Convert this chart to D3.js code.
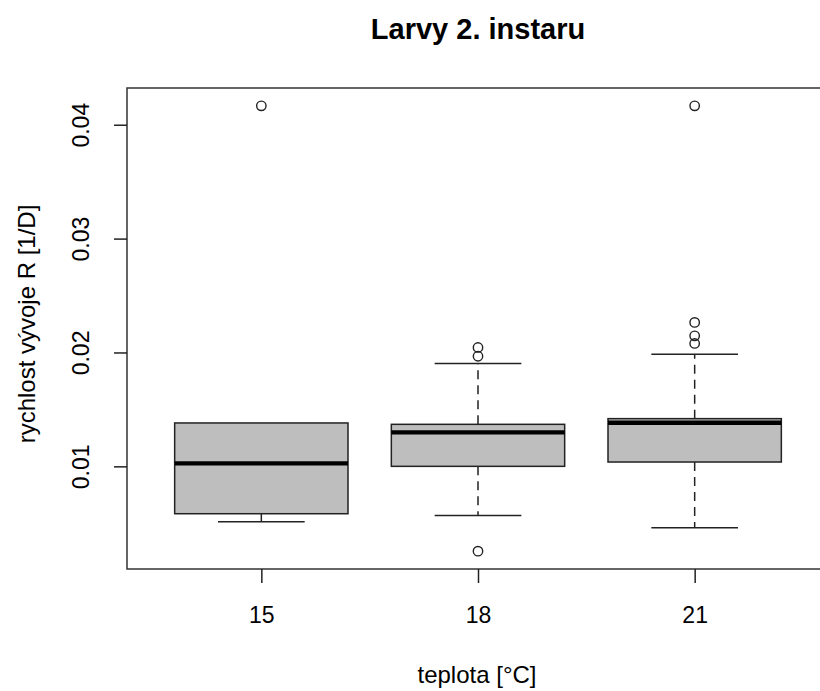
<!DOCTYPE html>
<html>
<head>
<meta charset="utf-8">
<script src="https://cdnjs.cloudflare.com/ajax/libs/d3/7.8.5/d3.min.js"></script>
<style>
  body { margin: 0; background: #fff; }
  text { font-family: 'Liberation Sans', Arial, sans-serif; fill: #000; }
  .title { font-size: 29px; font-weight: bold; }
  .tick-label { font-size: 23px; }
  .axis-label { font-size: 24px; }
</style>
</head>
<body>
<svg width="820" height="691"></svg>
<script>
// values
const groups = ['15', '18', '21'];
const whiskerLow = [0.00514, 0.00569, 0.00461];
const q1 = [0.00584, 0.01000, 0.01038];
const median = [0.01026, 0.01299, 0.01383];
const q3 = [0.01381, 0.01369, 0.01419];
const whiskerHigh = [0.01381, 0.01903, 0.01985];
const outliers = [
    [0.04166],
    [0.02044, 0.01967, 0.00255],
    [0.04166, 0.02264, 0.02146, 0.02079]
];
const yTicks = [0.01, 0.02, 0.03, 0.04];

const svg = d3.select('svg');

const render = () => {
    const data = groups.map((g, i) => ({
        group: g, pos: i + 1,
        lo: whiskerLow[i], q1: q1[i], med: median[i], q3: q3[i], hi: whiskerHigh[i],
        out: outliers[i]
    }));

    const plot = { left: 127, top: 88, bottom: 569, right: 829 };

    // like R: groups at 1..n, xlim n +- 0.5 widened 4%
    const xScale = d3.scaleLinear()
        .domain([0.5 - 0.12, groups.length + 0.5 + 0.12])
        .range([plot.left, plot.right]);

    const allValues = data.flatMap(d => [d.lo, d.hi, ...d.out]);
    const [minV, maxV] = d3.extent(allValues);
    const pad = (maxV - minV) * 0.04;
    const yScale = d3.scaleLinear()
        .domain([minV - pad, maxV + pad])
        .range([plot.bottom, plot.top]);

    const boxHalf = xScale(1.4) - xScale(1);
    const capHalf = boxHalf / 2;

    const g = svg.append('g');

    const box = g.selectAll('.box').data(data).enter().append('g').attr('class', 'box');

    // whiskers, dashed
    box.append('line')
        .attr('x1', d => xScale(d.pos)).attr('x2', d => xScale(d.pos))
        .attr('y1', d => yScale(d.q3)).attr('y2', d => yScale(d.hi))
        .attr('stroke', '#222').attr('stroke-width', 1.5)
        .attr('stroke-dasharray', '9,6');
    box.append('line')
        .attr('x1', d => xScale(d.pos)).attr('x2', d => xScale(d.pos))
        .attr('y1', d => yScale(d.q1)).attr('y2', d => yScale(d.lo))
        .attr('stroke', '#222').attr('stroke-width', 1.5)
        .attr('stroke-dasharray', '9,6');

    // staples
    box.filter(d => d.hi > d.q3).append('line')
        .attr('x1', d => xScale(d.pos) - capHalf).attr('x2', d => xScale(d.pos) + capHalf)
        .attr('y1', d => yScale(d.hi)).attr('y2', d => yScale(d.hi))
        .attr('stroke', '#222').attr('stroke-width', 1.5);
    box.append('line')
        .attr('x1', d => xScale(d.pos) - capHalf).attr('x2', d => xScale(d.pos) + capHalf)
        .attr('y1', d => yScale(d.lo)).attr('y2', d => yScale(d.lo))
        .attr('stroke', '#222').attr('stroke-width', 1.5);

    box.append('rect')
        .attr('x', d => xScale(d.pos) - boxHalf)
        .attr('width', boxHalf * 2)
        .attr('y', d => yScale(d.q3))
        .attr('height', d => yScale(d.q1) - yScale(d.q3))
        .attr('fill', '#bebebe')
        .attr('stroke', '#222').attr('stroke-width', 1.5);

    box.append('line')
        .attr('x1', d => xScale(d.pos) - boxHalf).attr('x2', d => xScale(d.pos) + boxHalf)
        .attr('y1', d => yScale(d.med)).attr('y2', d => yScale(d.med))
        .attr('stroke', '#000').attr('stroke-width', 4.3);

    // outliers
    box.selectAll('circle').data(d => d.out.map(v => ({ pos: d.pos, v })))
        .enter().append('circle')
            .attr('cx', d => xScale(d.pos))
            .attr('cy', d => yScale(d.v))
            .attr('r', 4.7)
            .attr('fill', 'none')
            .attr('stroke', '#222').attr('stroke-width', 1.4);

    // plot frame
    g.append('rect')
        .attr('x', plot.left).attr('y', plot.top)
        .attr('width', plot.right - plot.left).attr('height', plot.bottom - plot.top)
        .attr('fill', 'none').attr('stroke', '#333').attr('stroke-width', 1.5);

    // y axis
    const yAxisG = g.append('g')
        .attr('transform', `translate(${plot.left}, 0)`)
        .call(d3.axisLeft(yScale).tickValues(yTicks).tickSize(13).tickFormat(d3.format('.2f')));
    yAxisG.select('.domain').remove();
    yAxisG.selectAll('.tick line').attr('stroke', '#222').attr('stroke-width', 1.5);
    yAxisG.selectAll('.tick text')
        .attr('class', 'tick-label')
        .attr('x', 0).attr('dy', 0)
        .attr('transform', 'translate(-38, 0) rotate(-90)')
        .attr('text-anchor', 'middle')
        .attr('fill', '#000');
    yAxisG.attr('font-family', null).attr('font-size', null);

    // x axis
    const xAxisG = g.append('g')
        .attr('transform', `translate(0, ${plot.bottom})`)
        .call(d3.axisBottom(xScale).tickValues(data.map(d => d.pos)).tickSize(14)
            .tickFormat(p => groups[p - 1]));
    xAxisG.select('.domain').remove();
    xAxisG.selectAll('.tick line').attr('stroke', '#222').attr('stroke-width', 1.5);
    xAxisG.selectAll('.tick text')
        .attr('class', 'tick-label')
        .attr('y', 54).attr('dy', 0)
        .attr('fill', '#000');
    xAxisG.attr('font-family', null).attr('font-size', null);

    svg.append('text')
        .attr('class', 'axis-label')
        .attr('text-anchor', 'middle')
        .attr('x', 477)
        .attr('y', 683)
        .text('teplota [°C]');

    svg.append('text')
        .attr('class', 'axis-label')
        .attr('text-anchor', 'middle')
        .attr('transform', 'translate(35, 324) rotate(-90)')
        .text('rychlost vývoje R [1/D]');

    svg.append('text')
        .attr('class', 'title')
        .attr('text-anchor', 'middle')
        .attr('x', 478)
        .attr('y', 39)
        .text('Larvy 2. instaru');
};

render();
</script>
</body>
</html>
